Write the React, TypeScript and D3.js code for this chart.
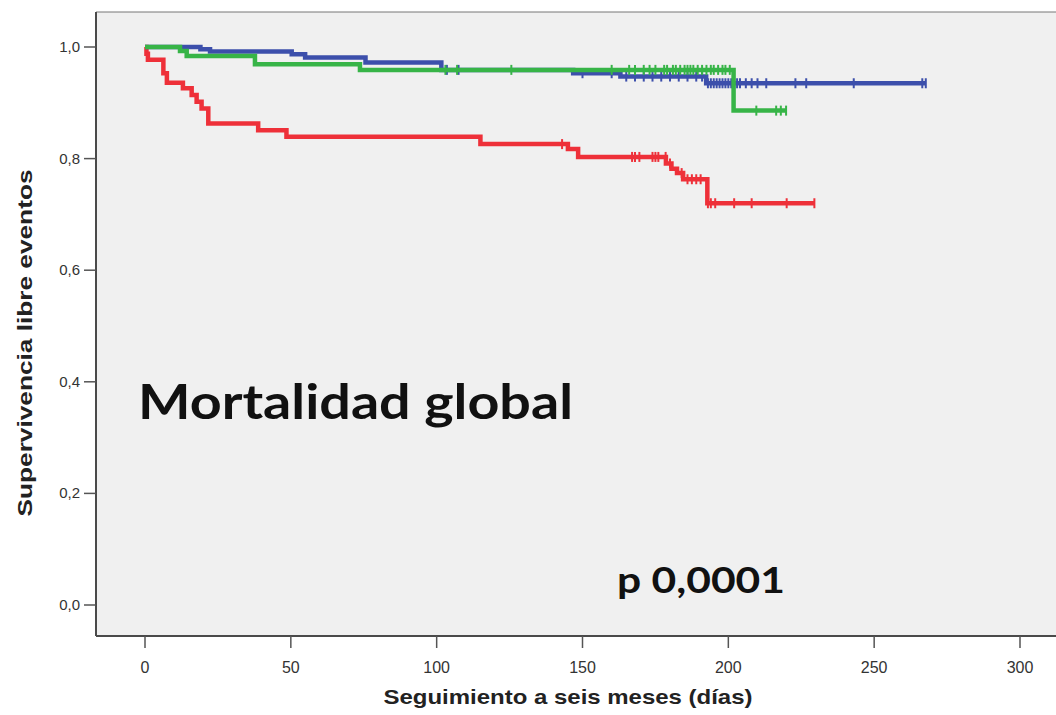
import React from "react";
import * as d3 from "d3";

// Kaplan-Meier steps: [day, survival]
const redSteps: [number, number][] = [
  [0, 1], [0.5, 0.988], [1, 0.977], [6.3, 0.953], [7.5, 0.936], [13, 0.926],
  [16, 0.914], [17.7, 0.902], [19.4, 0.89], [21.7, 0.863], [38.8, 0.851],
  [48.5, 0.839], [115, 0.826], [145, 0.817], [148.5, 0.803], [178.6, 0.791],
  [180.5, 0.782], [182.4, 0.774], [184.5, 0.763], [192.8, 0.72],
];
const redEnd = 229.5;
const redCensored = [143, 167, 168, 169.5, 174, 175, 176, 178.5, 180, 184, 186, 187.5, 189, 190.5, 193, 194, 195.5, 202, 208, 220, 229.5];

const greenSteps: [number, number][] = [
  [0, 1], [12, 0.993], [14.3, 0.984], [37.7, 0.969], [73.7, 0.959], [201.8, 0.886],
];
const greenEnd = 219.8;
const greenCensored = [103, 107, 125.6, 160, 166, 168, 171, 173, 175, 178, 179, 181, 182, 183.5, 185, 186, 187, 188, 189.5, 191, 192.5, 194, 195, 196.5, 198, 199, 200.5, 209.6, 216.4, 218, 219.8];

const blueSteps: [number, number][] = [
  [0, 1], [19, 0.996], [22.3, 0.992], [50.3, 0.987], [54.9, 0.981], [75.6, 0.972],
  [101.6, 0.959], [146.8, 0.953], [163, 0.947], [192.4, 0.935],
];
const blueEnd = 267.7;
const blueCensored = [103.5, 107.5, 150, 160, 165, 168, 171, 174, 177, 180, 183, 186, 189, 191, 193, 194, 195, 196, 197, 198, 199, 200, 201, 202, 203, 204, 206, 208, 210, 213, 223, 226.7, 243, 266.5, 267.7];

const xTicks = [0, 50, 100, 150, 200, 250, 300];
const yTicks = [0, 0.2, 0.4, 0.6, 0.8, 1.0];

const series = [
  { name: "red", color: "#ee3039", steps: redSteps, end: redEnd, censored: redCensored },
  { name: "blue", color: "#3c4fab", steps: blueSteps, end: blueEnd, censored: blueCensored },
  { name: "green", color: "#37b447", steps: greenSteps, end: greenEnd, censored: greenCensored },
];

const W = 1056, H = 715;
const frame = { left: 96, top: 12, right: 1062, bottom: 636 };

const x = d3.scaleLinear().domain([0, 300]).range([145, 1020]);
const y = d3.scaleLinear().domain([0, 1]).range([605, 47]);

const survAt = (steps: [number, number][], t: number) => {
  let s = steps[0][1];
  for (const [d, v] of steps) if (d <= t) s = v;
  return s;
};

const line = d3.line<[number, number]>()
  .x(d => x(d[0]))
  .y(d => y(d[1]))
  .curve(d3.curveStepAfter);

const tickFont = "'Liberation Sans Narrow', 'Arial Narrow', 'Liberation Sans', Arial, sans-serif";

export default function App() {
  return (
    <svg width={W} height={H} style={{ position: "absolute", left: 0, top: 0, background: "#fff" }}>
      <rect x={frame.left} y={frame.top} width={frame.right - frame.left} height={frame.bottom - frame.top} fill="#f0f0f0" />
      <line x1={frame.left} x2={frame.right} y1={frame.top} y2={frame.top} stroke="#777" strokeWidth={1} />
      <line x1={frame.left} x2={frame.left} y1={frame.top} y2={frame.bottom} stroke="#4a4a4a" strokeWidth={2} />
      <line x1={frame.left} x2={frame.right} y1={frame.bottom} y2={frame.bottom} stroke="#4a4a4a" strokeWidth={2} />

      {/* y axis ticks */}
      {yTicks.map(t => (
        <g key={t}>
          <line x1={84} x2={frame.left} y1={y(t)} y2={y(t)} stroke="#555" strokeWidth={1.5} />
          <text x={80} y={y(t) + 5} textAnchor="end" fontFamily={tickFont} fontSize={15} fill="#333">
            {d3.format(".1f")(t).replace(".", ",")}
          </text>
        </g>
      ))}

      {/* x axis ticks */}
      {xTicks.map(t => (
        <g key={t}>
          <line x1={x(t)} x2={x(t)} y1={frame.bottom} y2={648} stroke="#555" strokeWidth={1.5} />
          <text x={x(t)} y={673} textAnchor="middle" fontFamily={tickFont} fontSize={16} fill="#333">{t}</text>
        </g>
      ))}

      {/* curves */}
      {series.map(s => {
        const pts: [number, number][] = [...s.steps, [s.end, s.steps[s.steps.length - 1][1]]];
        return (
          <g key={s.name}>
            <path d={line(pts) ?? ""} fill="none" stroke={s.color} strokeWidth={4.5} />
            {s.censored.map((c, i) => (
              <line key={i} x1={x(c)} x2={x(c)} y1={y(survAt(s.steps, c)) - 5} y2={y(survAt(s.steps, c)) + 5}
                stroke={s.color} strokeWidth={2} />
            ))}
          </g>
        );
      })}

      <text x={138} y={419} fontFamily="Lato, 'Open Sans', sans-serif" fontWeight="bold" fontSize={47} fill="#111"
        textLength={435} lengthAdjust="spacingAndGlyphs">Mortalidad global</text>
      <text x={617} y={593} fontFamily="Lato, 'Open Sans', sans-serif" fontWeight="bold" fontSize={36} fill="#111"
        textLength={168} lengthAdjust="spacingAndGlyphs">p 0,0001</text>

      <text x={568} y={704} textAnchor="middle" fontFamily={tickFont} fontWeight="bold" fontSize={21} fill="#222"
        textLength={369} lengthAdjust="spacingAndGlyphs">Seguimiento a seis meses (días)</text>
      <text transform="translate(32,343) rotate(-90)" textAnchor="middle" fontFamily={tickFont} fontWeight="bold" fontSize={21} fill="#222"
        textLength={347} lengthAdjust="spacingAndGlyphs">Supervivencia libre eventos</text>
    </svg>
  );
}
